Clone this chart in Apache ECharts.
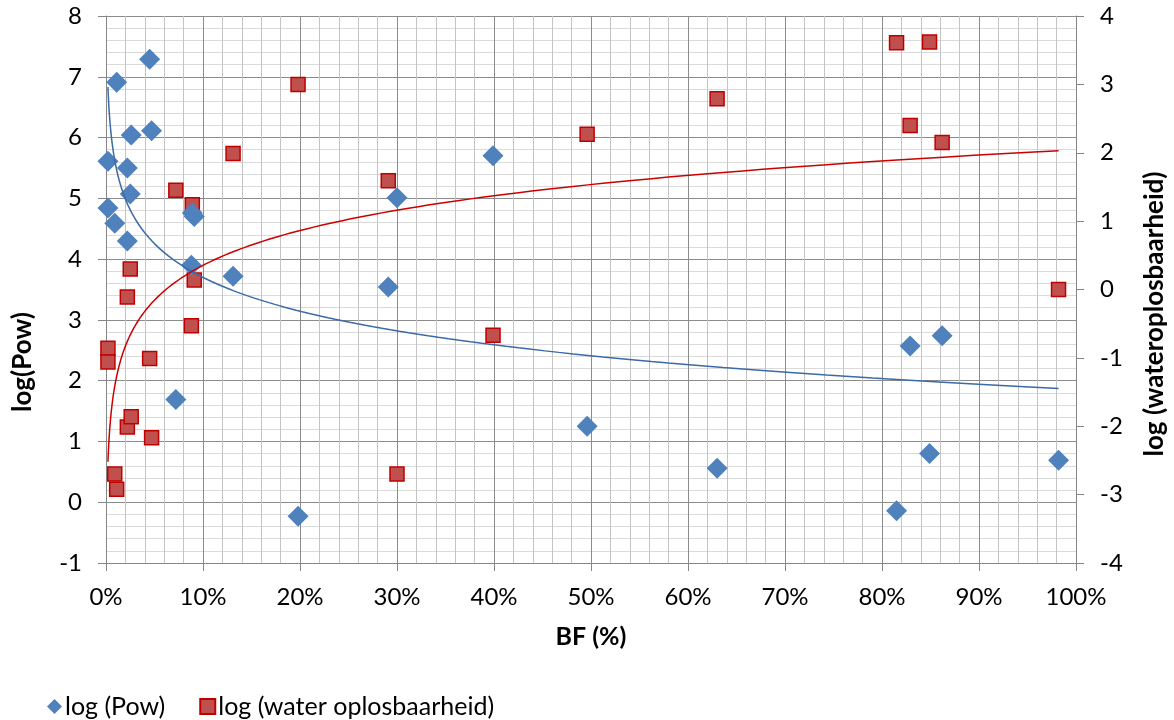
<!DOCTYPE html>
<html>
<head>
<meta charset="utf-8">
<script src="https://cdn.jsdelivr.net/npm/echarts@6/dist/echarts.min.js"></script>
<style>
  html, body { margin: 0; padding: 0; background: #fff; }
  #chart { width: 1174px; height: 720px; }
</style>
</head>
<body>
<div id="chart"></div>
<script>
// BF (%) per measurement, shared by both series
const bf = [0.2, 0.2, 0.9, 1.1, 2.2, 2.2, 2.5, 2.6, 4.5, 4.7, 7.2, 8.8, 8.9, 9.1, 13.1,
  19.8, 29.1, 30.0, 39.9, 49.6, 63.0, 81.5, 82.9, 84.9, 86.2, 98.2];
const logPow = [5.61, 4.84, 4.59, 6.91, 5.50, 4.30, 5.07, 6.04, 7.29, 6.11, 1.69, 3.90, 4.76, 4.70, 3.72,
  -0.23, 3.54, 5.01, 5.70, 1.25, 0.56, -0.14, 2.57, 0.80, 2.74, 0.69];
const logWater = [-0.86, -1.06, -2.70, -2.92, -0.11, -2.01, 0.30, -1.86, -1.01, -2.17, 1.45, -0.53, 1.24, 0.14, 1.99,
  3.00, 1.59, -2.70, -0.67, 2.27, 2.79, 3.61, 2.40, 3.62, 2.15, 0.00];

const xTicks = [0, 10, 20, 30, 40, 50, 60, 70, 80, 90, 100];
const powTicks = [-1, 0, 1, 2, 3, 4, 5, 6, 7, 8];
const waterTicks = [-4, -3, -2, -1, 0, 1, 2, 3, 4];

const FONT = 'Lato, "Open Sans", sans-serif';

// logarithmic trendline (least squares on ln x), like the spreadsheet trendline
function logTrend(xs, ys) {
  const n = xs.length;
  let sl = 0, sy = 0, sll = 0, sly = 0;
  for (let i = 0; i < n; i++) {
    const l = Math.log(xs[i]);
    sl += l; sy += ys[i]; sll += l * l; sly += l * ys[i];
  }
  const b = (n * sly - sl * sy) / (n * sll - sl * sl);
  const a = (sy - b * sl) / n;
  const lo = Math.min(...xs), hi = Math.max(...xs);
  const pts = [];
  const steps = 200;
  for (let k = 0; k <= steps; k++) {
    const x = Math.exp(Math.log(lo) + (Math.log(hi) - Math.log(lo)) * k / steps);
    pts.push([x, a + b * Math.log(x)]);
  }
  return pts;
}

const chart = echarts.init(document.getElementById('chart'));

const axisText = { color: '#000', fontFamily: FONT, fontSize: 24 };
const nameText = { color: '#000', fontFamily: FONT, fontSize: 25, fontWeight: 'bold' };

// y axis titles sit a bit below the middle of the plot, as in the original
const titleStyle = { fill: '#000', fontFamily: FONT, fontSize: 26, fontWeight: 'bold', align: 'center', verticalAlign: 'middle' };

const option = {
  animation: false,
  backgroundColor: '#fff',
  grid: { left: 106, right: 98, top: 16, bottom: 157, outerBoundsMode: 'none' },
  graphic: [
    { type: 'text', x: 23, y: 362, rotation: Math.PI / 2, style: { ...titleStyle, text: 'log(Pow)' } },
    { type: 'text', x: 1155, y: 314, rotation: Math.PI / 2, style: { ...titleStyle, text: 'log (wateroplosbaarheid)' } }
  ],
  legend: {
    left: 42,
    top: 689,
    itemGap: 34,
    itemWidth: 15,
    itemHeight: 15,
    textStyle: { color: '#000', fontFamily: FONT, fontSize: 25, padding: [0, 0, 0, -2] },
    data: [
      { name: 'log (Pow)', icon: 'diamond' },
      { name: 'log (water oplosbaarheid)', icon: 'rect' }
    ]
  },
  xAxis: {
    type: 'value',
    min: xTicks[0],
    max: xTicks[xTicks.length - 1],
    interval: 10,
    name: 'BF (%)',
    nameLocation: 'middle',
    nameGap: 61,
    nameTextStyle: nameText,
    axisLine: { onZero: false, lineStyle: { color: '#868686', width: 1 } },
    axisTick: { show: true, length: 8, inside: false, lineStyle: { color: '#868686' } },
    axisLabel: { ...axisText, margin: 22, formatter: v => v + '%' },
    splitLine: { show: true, lineStyle: { color: '#8c8c8c', width: 1 } },
    minorTick: { show: false, splitNumber: 5 },
    minorSplitLine: { show: true, lineStyle: { color: '#c4c4c4', width: 1 } }
  },
  yAxis: [
    {
      type: 'value',
      min: powTicks[0],
      max: powTicks[powTicks.length - 1],
      interval: 1,
      axisLine: { show: true, lineStyle: { color: '#868686', width: 1 } },
      axisTick: { show: true, length: 8, lineStyle: { color: '#868686' } },
      axisLabel: { ...axisText, margin: 24 },
      splitLine: { show: true, lineStyle: { color: '#8c8c8c', width: 1 } },
      minorTick: { show: false, splitNumber: 5 },
      minorSplitLine: { show: true, lineStyle: { color: '#dadada', width: 1 } }
    },
    {
      type: 'value',
      position: 'right',
      min: waterTicks[0],
      max: waterTicks[waterTicks.length - 1],
      interval: 1,
      axisLine: { show: true, lineStyle: { color: '#868686', width: 1 } },
      axisTick: { show: true, length: 8, lineStyle: { color: '#868686' } },
      axisLabel: { ...axisText, margin: 24 },
      splitLine: { show: false }
    }
  ],
  series: [
    {
      name: 'log (water oplosbaarheid)',
      type: 'scatter',
      yAxisIndex: 1,
      symbol: 'rect',
      symbolSize: 14,
      itemStyle: { color: '#c0504d', borderColor: '#c00000', borderWidth: 1.5, opacity: 1 },
      data: bf.map((x, i) => [x, logWater[i]]),
      z: 3
    },
    {
      name: 'log (Pow)',
      type: 'scatter',
      yAxisIndex: 0,
      symbol: 'diamond',
      symbolSize: 21,
      itemStyle: { color: '#4f81bd', opacity: 1 },
      data: bf.map((x, i) => [x, logPow[i]]),
      z: 4
    },
    {
      name: 'trend pow',
      type: 'line',
      yAxisIndex: 0,
      showSymbol: false,
      lineStyle: { color: '#3c6aa6', width: 1.5 },
      data: logTrend(bf, logPow),
      silent: true,
      z: 5
    },
    {
      name: 'trend water',
      type: 'line',
      yAxisIndex: 1,
      showSymbol: false,
      lineStyle: { color: '#cc0000', width: 1.5 },
      data: logTrend(bf, logWater),
      silent: true,
      z: 5
    }
  ]
};

chart.setOption(option);
</script>
</body>
</html>
